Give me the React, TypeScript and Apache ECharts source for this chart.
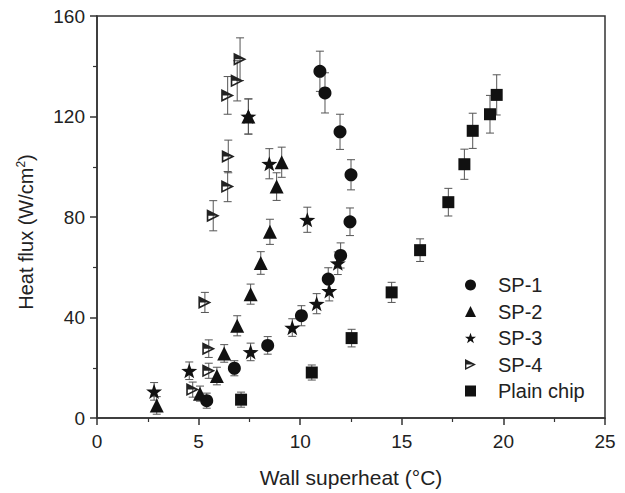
import React, { useEffect, useRef } from "react";
import * as echarts from "echarts";

// ---- Data ----
const sp1X = [5.4, 6.76, 8.4, 10.06, 11.38, 11.99, 12.45, 12.5, 11.96, 11.22, 10.97];
const sp1Y = [6.9, 19.8, 28.9, 40.7, 55.3, 64.7, 78.1, 96.8, 113.9, 129.4, 138.0];
const sp1E = [3, 3, 3.5, 4, 4.5, 5, 5.5, 6, 7, 8, 8];

const sp2X = [2.94, 5.07, 5.9, 6.26, 6.9, 7.56, 8.06, 8.51, 8.84, 9.09, 7.45];
const sp2Y = [5.0, 9.7, 16.7, 25.7, 36.7, 49.3, 61.7, 74.1, 92.1, 101.8, 120.0];
const sp2E = [3.5, 3, 3.5, 3.5, 4, 4, 4.5, 5, 5.5, 6, 7];

const sp3X = [2.81, 4.54, 7.56, 9.61, 10.81, 11.43, 11.85, 10.35, 8.48, 7.45];
const sp3Y = [10.6, 18.8, 26.3, 36.0, 45.5, 50.6, 61.6, 78.9, 101.2, 120.0];
const sp3E = [3.5, 3.5, 3.5, 3.5, 4, 4, 4.5, 5, 6, 7];

const sp4X = [4.71, 5.5, 5.5, 5.31, 5.72, 6.43, 6.46, 6.43, 6.9, 7.04];
const sp4Y = [11.3, 18.8, 27.6, 46.0, 80.5, 92.1, 104.1, 128.4, 134.2, 142.8];
const sp4E = [3, 3, 3.5, 4, 6, 6, 6.5, 7.5, 8, 8.5];

const plainX = [7.09, 10.57, 12.53, 14.5, 15.9, 17.29, 18.08, 18.49, 19.34, 19.67];
const plainY = [7.3, 18.1, 31.8, 50.0, 66.8, 85.9, 101.0, 114.3, 120.9, 128.6];
const plainE = [3, 3, 3.5, 4, 4.5, 5.5, 6, 7, 7.5, 8];

const seriesNames = ["SP-1", "SP-2", "SP-3", "SP-4", "Plain chip"];
const xTicks = { min: 0, max: 25, interval: 5 };
const yTicks = { min: 0, max: 160, interval: 40 };

const STAR =
  "path://M50,0 L61.76,33.82 L97.55,34.55 L69.02,56.18 L79.39,90.45 L50,70 L20.61,90.45 L30.98,56.18 L2.45,34.55 L38.24,33.82 Z";
const HALF_TRI =
  "path://M0,0 L12,6 L0,12 Z M1.5,2.43 L1.5,9.57 L8.65,6 Z M0,0 L12,6 L0,6 Z";

const FONT = "'Liberation Sans', Arial, Helvetica, sans-serif";
const INK = "#111";

function zip(xs: number[], ys: number[]) {
  return xs.map((x, i) => [x, ys[i]]);
}
function zipErr(xs: number[], ys: number[], es: number[]) {
  return xs.map((x, i) => [x, ys[i], es[i]]);
}

export default function App() {
  const ref = useRef<HTMLDivElement>(null);

  useEffect(() => {
    if (!ref.current) return;
    const chart = echarts.init(ref.current, undefined, { renderer: "svg" });

    const errData = [
      ...zipErr(sp1X, sp1Y, sp1E),
      ...zipErr(sp2X, sp2Y, sp2E),
      ...zipErr(sp3X, sp3Y, sp3E),
      ...zipErr(sp4X, sp4Y, sp4E),
      ...zipErr(plainX, plainY, plainE),
    ];

    const option: any = {
      animation: false,
      backgroundColor: "#fff",
      textStyle: { fontFamily: FONT },
      grid: {
        left: 97,
        right: 20,
        top: 16,
        bottom: 75,
        show: true,
        borderColor: "#333",
        borderWidth: 1.5,
        backgroundColor: "transparent",
      },
      legend: {
        orient: "vertical",
        left: 460,
        top: 270,
        itemWidth: 11,
        itemHeight: 11,
        itemGap: 6.5,
        selectedMode: false,
        textStyle: {
          fontFamily: FONT,
          fontSize: 20,
          color: "#222",
          lineHeight: 20,
          padding: [0, 0, 0, 17],
        },
        data: [
          { name: "SP-1", icon: "circle" },
          { name: "SP-2", icon: "triangle" },
          { name: "SP-3", icon: STAR },
          { name: "SP-4", icon: HALF_TRI },
          { name: "Plain chip", icon: "rect" },
        ],
      },
      xAxis: {
        type: "value",
        min: xTicks.min,
        max: xTicks.max,
        interval: xTicks.interval,
        name: "Wall superheat (°C)",
        nameLocation: "middle",
        nameGap: 49,
        nameTextStyle: { fontFamily: FONT, fontSize: 21, color: "#222" },
        axisLine: { show: true, lineStyle: { color: "#333", width: 1.5 } },
        axisTick: { show: true, inside: false, length: 7, lineStyle: { color: "#333", width: 1.5 } },
        minorTick: { show: true, splitNumber: 2, length: 4, lineStyle: { color: "#333", width: 1.2 } },
        axisLabel: { fontFamily: FONT, fontSize: 19, color: "#222", margin: 14 },
        splitLine: { show: false },
      },
      yAxis: {
        type: "value",
        min: yTicks.min,
        max: yTicks.max,
        interval: yTicks.interval,
        name: "Heat flux (W/cm{sup|2})",
        nameLocation: "middle",
        nameGap: 60,
        nameTextStyle: {
          fontFamily: FONT,
          fontSize: 20,
          color: "#222",
          padding: [0, 30, 0, 0],
          rich: {
            sup: { fontFamily: FONT, fontSize: 12, color: "#222", verticalAlign: "top", padding: [0, 0, 10, 0] },
          },
        },
        axisLine: { show: true, lineStyle: { color: "#333", width: 1.5 } },
        axisTick: { show: true, inside: false, length: 7, lineStyle: { color: "#333", width: 1.5 } },
        minorTick: { show: true, splitNumber: 2, length: 4, lineStyle: { color: "#333", width: 1.2 } },
        axisLabel: { fontFamily: FONT, fontSize: 19, color: "#222", margin: 12 },
        splitLine: { show: false },
      },
      series: [
        {
          type: "custom",
          name: "errors",
          z: 1,
          silent: true,
          data: errData,
          renderItem: (params: any, api: any) => {
            const x = api.value(0);
            const y = api.value(1);
            const e = api.value(2);
            const top = api.coord([x, y + e]);
            const bot = api.coord([x, y - e]);
            const hw = 4;
            const style = { stroke: "#555", lineWidth: 1 };
            return {
              type: "group",
              children: [
                { type: "line", shape: { x1: top[0], y1: top[1], x2: bot[0], y2: bot[1] }, style },
                { type: "line", shape: { x1: top[0] - hw, y1: top[1], x2: top[0] + hw, y2: top[1] }, style },
                { type: "line", shape: { x1: bot[0] - hw, y1: bot[1], x2: bot[0] + hw, y2: bot[1] }, style },
              ],
            };
          },
        },
        {
          type: "scatter",
          name: seriesNames[0],
          z: 3,
          symbol: "circle",
          symbolSize: 13,
          itemStyle: { color: INK, opacity: 1 },
          data: zip(sp1X, sp1Y),
        },
        {
          type: "scatter",
          name: seriesNames[1],
          z: 3,
          symbol: "triangle",
          symbolSize: 14,
          itemStyle: { color: INK, opacity: 1 },
          data: zip(sp2X, sp2Y),
        },
        {
          type: "scatter",
          name: seriesNames[2],
          z: 3,
          symbol: STAR,
          symbolKeepAspect: true,
          symbolSize: 16,
          itemStyle: { color: INK, opacity: 1 },
          data: zip(sp3X, sp3Y),
        },
        {
          type: "scatter",
          name: seriesNames[3],
          z: 3,
          symbol: HALF_TRI,
          symbolSize: 13,
          itemStyle: { color: "#222", opacity: 1 },
          data: zip(sp4X, sp4Y),
        },
        {
          type: "scatter",
          name: seriesNames[4],
          z: 3,
          symbol: "rect",
          symbolSize: 12,
          itemStyle: { color: INK, opacity: 1 },
          data: zip(plainX, plainY),
        },
      ],
    };

    chart.setOption(option);
    return () => chart.dispose();
  }, []);

  return (
    <div
      ref={ref}
      style={{ width: 625, height: 493, position: "absolute", left: 0, top: 0, background: "#fff" }}
    />
  );
}
